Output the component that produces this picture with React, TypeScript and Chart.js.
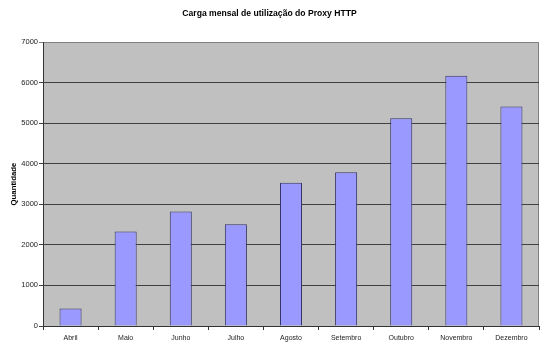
import React, { useEffect, useRef } from "react";
import { Chart, registerables } from "chart.js";

Chart.register(...registerables);

const categories = ["Abril", "Maio", "Junho", "Julho", "Agosto", "Setembro", "Outubro", "Novembro", "Dezembro"];
const quantidade = [430, 2330, 2820, 2510, 3530, 3790, 5120, 6170, 5410];
const yTicks = [0, 1000, 2000, 3000, 4000, 5000, 6000, 7000];
const chartTitle = "Carga mensal de utilização do Proxy HTTP";
const yTitle = "Quantidade";

const FONT = "'Liberation Sans', Arial, sans-serif";

const plotBg = {
  id: "plotBg",
  beforeDraw(chart: any) {
    const { ctx, chartArea } = chart;
    if (!chartArea) return;
    ctx.save();
    ctx.fillStyle = "#c0c0c0";
    ctx.fillRect(chartArea.left, chartArea.top, chartArea.right - chartArea.left, chartArea.bottom - chartArea.top);
    ctx.strokeStyle = "#808080";
    ctx.lineWidth = 1;
    ctx.strokeRect(Math.round(chartArea.left) + 0.5, Math.round(chartArea.top) + 0.5, Math.round(chartArea.right - chartArea.left) - 1, Math.round(chartArea.bottom - chartArea.top));
    ctx.restore();
  },
};

export default function App() {
  const ref = useRef<HTMLCanvasElement>(null);
  useEffect(() => {
    if (!ref.current) return;
    const chart = new Chart(ref.current, {
      type: "bar",
      data: {
        labels: categories,
        datasets: [
          {
            label: yTitle,
            data: quantidade,
            backgroundColor: "#9999ff",
            borderColor: "#333366",
            borderWidth: 1,
            barPercentage: 0.4,
            categoryPercentage: 1,
          },
        ],
      },
      options: {
        animation: false,
        responsive: false,
        maintainAspectRatio: false,
        layout: { padding: { top: 0, left: 0, right: 11, bottom: 0 } },
        plugins: {
          legend: { display: false },
          tooltip: { enabled: false },
          title: {
            display: true,
            text: chartTitle,
            color: "#000",
            font: { family: FONT, size: 8.6, weight: "bold" },
            padding: { top: 8, bottom: 23.7 },
          },
        },
        scales: {
          x: {
            grid: { offset: true, drawOnChartArea: false, tickLength: 4, color: "#333" },
            border: { color: "#333" },
            ticks: { color: "#222", font: { family: FONT, size: 7 }, padding: 3.5, maxRotation: 0, autoSkip: false },
            afterFit(scale: any) {
              scale.height = 36;
            },
          },
          y: {
            min: 0,
            max: 7000,
            afterBuildTicks(scale: any) {
              scale.ticks = yTicks.map((v) => ({ value: v }));
            },
            grid: {
              color: (c: any) => (c.tick && c.tick.value === 7000 ? "#808080" : "#404040"),
              tickLength: 4,
            },
            border: { color: "#333" },
            ticks: {
              color: "#222",
              font: { family: FONT, size: 7.5 },
              padding: 1,
              callback: (v: any) => String(v),
            },
            title: {
              display: true,
              text: yTitle,
              color: "#000",
              font: { family: FONT, size: 7.8, weight: "bold" },
              padding: { top: 9, bottom: 0 },
            },
            afterFit(scale: any) {
              scale.width = 43;
            },
          },
        },
      },
      plugins: [plotBg],
    } as any);
    return () => chart.destroy();
  }, []);
  return (
    <div style={{ position: "fixed", left: 0, top: 0, width: 550, height: 362, background: "#fff" }}>
      <canvas ref={ref} width={550} height={362} style={{ width: 550, height: 362, display: "block" }} />
    </div>
  );
}
